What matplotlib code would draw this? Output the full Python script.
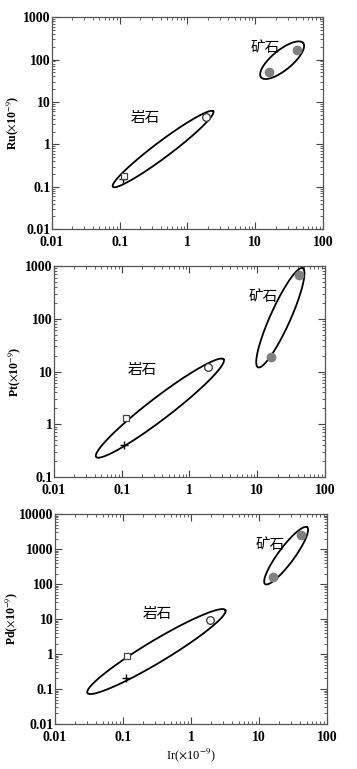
import numpy as np
import matplotlib
matplotlib.use("Agg")
import matplotlib.pyplot as plt
from matplotlib.ticker import LogLocator, FixedLocator, NullFormatter

plt.rcParams['font.family'] = ['Liberation Serif', 'DejaVu Serif']
plt.rcParams['mathtext.fontset'] = 'stix'

# Ir concentrations (x axis) for each sample type
ir_plus = 0.11
ir_square = 0.115
ir_circle = 1.9
ir_ore = [16, 42]

# Y-axis element values
elements = ["Ru", "Pt", "Pd"]
y_plus = [0.15, 0.4, 0.2]
y_square = [0.18, 1.3, 0.9]
y_circle = [4.5, 12, 9.5]
y_ore = [[52, 170], [19, 680], [160, 2500]]

ylims = [(0.01, 1000), (0.1, 1000), (0.01, 10000)]
yticks = [[0.01, 0.1, 1, 10, 100, 1000],
          [0.1, 1, 10, 100, 1000],
          [0.01, 0.1, 1, 10, 100, 1000, 10000]]
ytick_labels = [["0.01", "0.1", "1", "10", "100", "1000"],
                ["0.1", "1", "10", "100", "1000"],
                ["0.01", "0.1", "1", "10", "100", "1000", "10000"]]
xticks = [0.01, 0.1, 1, 10, 100]
xtick_labels = ["0.01", "0.1", "1", "10", "100"]

# ellipses: two tips of major axis (data) and semi-minor (pixels)
rock_tips = [((0.079, 0.10), (2.4, 6.0)),
             ((0.042, 0.24), (3.2, 17)),
             ((0.030, 0.077), (3.2, 18))]
rock_minor = [8, 11, 11]
ore_tips = [((12.2, 38), (51, 245)),
            ((10.3, 12), (47, 910)),
            ((12.3, 100), (51, 4200))]
ore_minor = [10, 10, 8]

rock_label = "岩石"
ore_label = "矿石"
rock_label_pos = [(0.235, 4.2), (0.2, 10.7), (0.316, 14)]
ore_label_pos = [(13.8, 186), (12.2, 258), (14.4, 1300)]

positions = [[0.1457, 0.702, 0.759, 0.2757],
             [0.151, 0.3797, 0.759, 0.2744],
             [0.154, 0.0585, 0.762, 0.273]]
ylabel_x = [-0.114, -0.114, -0.13]

fig = plt.figure(figsize=(3.57, 7.69), dpi=100)


def draw_ellipse(ax, tips, minor_px):
    p1 = ax.transData.transform(tips[0])
    p2 = ax.transData.transform(tips[1])
    c = (p1 + p2) / 2
    a = np.linalg.norm(p2 - p1) / 2
    ang = np.arctan2(p2[1] - p1[1], p2[0] - p1[0])
    t = np.linspace(0, 2 * np.pi, 300)
    xs = a * np.cos(t)
    ys = minor_px * np.sin(t)
    X = c[0] + xs * np.cos(ang) - ys * np.sin(ang)
    Y = c[1] + xs * np.sin(ang) + ys * np.cos(ang)
    pts = ax.transData.inverted().transform(np.column_stack([X, Y]))
    ax.plot(pts[:, 0], pts[:, 1], color='black', lw=1.3, zorder=2)


for i in range(3):
    ax = fig.add_axes(positions[i])
    ax.set_xscale('log')
    ax.set_yscale('log')
    ax.set_xlim(0.01, 100)
    ax.set_ylim(*ylims[i])
    ax.xaxis.set_major_locator(FixedLocator(xticks))
    ax.set_xticklabels(xtick_labels)
    ax.yaxis.set_major_locator(FixedLocator(yticks[i]))
    ax.set_yticklabels(ytick_labels[i])
    ax.xaxis.set_minor_locator(LogLocator(base=10, subs=np.arange(2, 10), numticks=20))
    ax.yaxis.set_minor_locator(LogLocator(base=10, subs=np.arange(2, 10), numticks=20))
    ax.xaxis.set_minor_formatter(NullFormatter())
    ax.yaxis.set_minor_formatter(NullFormatter())
    ax.tick_params(which='both', direction='in', top=True, right=True, color='#444444')
    ax.tick_params(which='major', length=5, width=0.8, labelsize=10)
    ax.tick_params(axis='y', which='major', pad=1)
    ax.tick_params(axis='x', which='major', pad=5)
    ax.tick_params(which='minor', length=2.5, width=0.6)
    for lab in ax.get_xticklabels() + ax.get_yticklabels():
        lab.set_fontweight('bold')
    for s in ax.spines.values():
        s.set_color('#555555')
        s.set_linewidth(0.9)

    fig.canvas.draw()
    draw_ellipse(ax, rock_tips[i], rock_minor[i])
    draw_ellipse(ax, ore_tips[i], ore_minor[i])

    ax.plot([ir_plus], [y_plus[i]], marker='+', color='black', ms=6, mew=1.0, ls='none', zorder=3)
    ax.plot([ir_square], [y_square[i]], marker='s', mfc='white', mec='#444444', ms=5, mew=0.9, ls='none', zorder=3)
    ax.plot([ir_circle], [y_circle[i]], marker='o', mfc='white', mec='#333333', ms=5.5, mew=0.9, ls='none', zorder=3)
    ax.plot(ir_ore, y_ore[i], marker='o', color='#808080', ms=6, ls='none', zorder=3)

    ax.text(*rock_label_pos[i], rock_label, family=['Noto Sans CJK SC'], fontsize=10.5,
            ha='center', va='center')
    ax.text(*ore_label_pos[i], ore_label, family=['Noto Sans CJK SC'], fontsize=10.5,
            ha='center', va='center')

    ax.set_ylabel(elements[i] + r"($\times$10$^{-9}$)", fontsize=8.5, fontweight='bold')
    ax.yaxis.set_label_coords(ylabel_x[i], 0.5)
    if i == 2:
        ax.set_xlabel(r"Ir($\times$10$^{-9}$)", fontsize=9, labelpad=2)

fig.savefig("out.png", dpi=100)
